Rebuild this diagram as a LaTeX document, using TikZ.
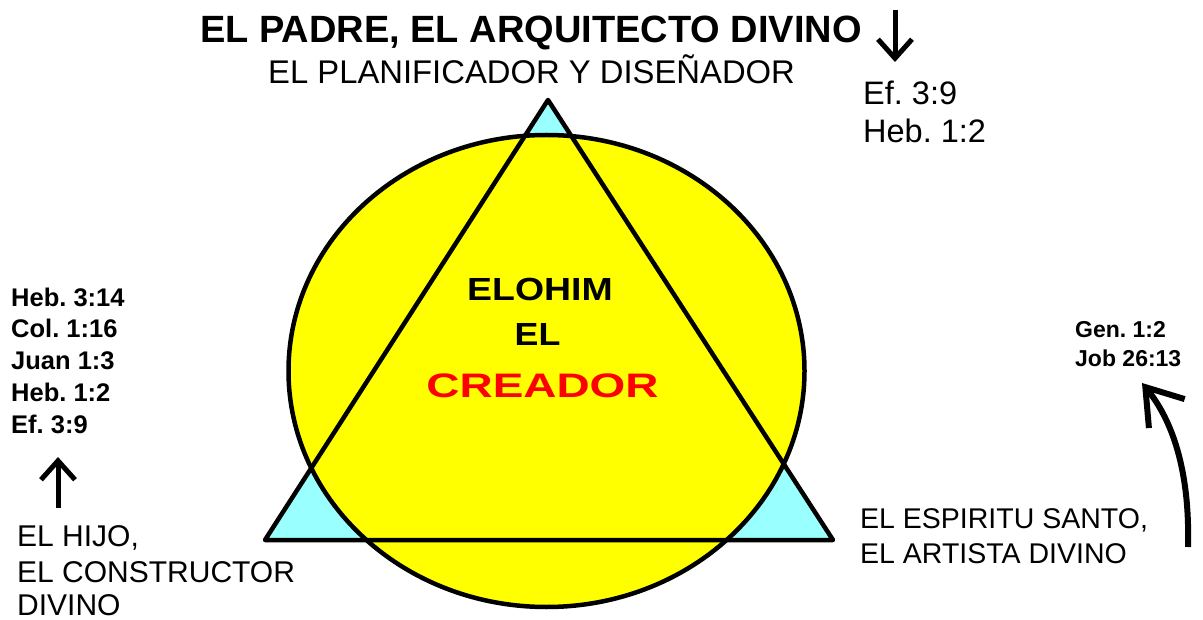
\documentclass[tikz,border=0pt]{standalone}
\usepackage{fontspec}
\setmainfont{Liberation Sans}
\usetikzlibrary{arrows.meta}
\definecolor{skycyan}{RGB}{153,255,255}
\definecolor{sunyellow}{RGB}{255,255,0}
\definecolor{creared}{RGB}{255,0,0}
\frenchspacing

\begin{document}
\begin{tikzpicture}[x=1pt,y=-1pt,
  lbl/.style={inner sep=0pt,anchor=base west},
  mid/.style={inner sep=0pt,anchor=base},
  thickline/.style={line width=4.5pt,line join=round},
  barb/.style={line width=5pt,-{Straight Barb[length=19pt,width=34pt]}}]
\useasboundingbox (0,0) rectangle (1203,620);

% Triangle behind the circle
\coordinate (apex) at (548,100);
\coordinate (baseleft) at (265,540);
\coordinate (baseright) at (833,540);
\fill[skycyan] (apex) -- (baseleft) -- (baseright) -- cycle;

% The circle (Elohim)
\coordinate (centre) at (546.5,371);
\fill[sunyellow] (centre) ellipse[x radius=258,y radius=236];
\draw[thickline] (centre) ellipse[x radius=258,y radius=236];
\draw[thickline] (apex) -- (baseleft) -- (baseright) -- cycle;

% Centre text
\node[mid,font=\bfseries\fontsize{32}{34}\selectfont] (elohim) at (540,301) {\scalebox{1.17}[1]{ELOHIM}};
\node[mid,font=\bfseries\fontsize{32}{34}\selectfont] (el) at (537.5,346) {\scalebox{1.12}[1]{EL}};
\node[mid,font=\bfseries\fontsize{34}{36}\selectfont,text=creared] (creador) at (542.5,398) {\scalebox{1.35}[1]{CREADOR}};

% The Father (top)
\node[lbl,font=\bfseries\fontsize{38}{40}\selectfont] (padre) at (200,43) {EL PADRE, EL ARQUITECTO DIVINO};
\node[lbl,font=\fontsize{32.8}{34}\selectfont] (planificador) at (268,84) {EL PLANIFICADOR Y DISEÑADOR};
\coordinate (padretail) at (895,10);
\coordinate (padretip) at (895,62);
\draw[barb] (padretail) -- (padretip);
\node[lbl,font=\fontsize{32.5}{34}\selectfont] (padreref1) at (863,105) {Ef. 3:9};
\node[lbl,font=\fontsize{32.5}{34}\selectfont] (padreref2) at (863,143) {Heb. 1:2};

% The Son (left)
\foreach \txt/\yy/\nm in {Heb. 3:14/307/a, Col. 1:16/338/b, Juan 1:3/370/c, Heb. 1:2/402/d, Ef. 3:9/433/e}
  \node[lbl,font=\bfseries\fontsize{25.5}{27}\selectfont] (hijoref\nm) at (11,\yy) {\txt};
\coordinate (hijotail) at (58,508);
\coordinate (hijotip) at (58,457);
\draw[barb] (hijotail) -- (hijotip);
\node[lbl,font=\fontsize{30}{32}\selectfont] (hijo1) at (17,546) {EL HIJO,};
\node[lbl,font=\fontsize{30}{32}\selectfont] (hijo2) at (17,582) {EL CONSTRUCTOR};
\node[lbl,font=\fontsize{30}{32}\selectfont] (hijo3) at (17,615) {DIVINO};

% The Holy Spirit (right)
\node[lbl,font=\fontsize{28.5}{30}\selectfont] (espiritu1) at (860,528) {EL ESPIRITU SANTO,};
\node[lbl,font=\fontsize{28.5}{30}\selectfont] (espiritu2) at (860,563) {EL ARTISTA DIVINO};
\node[lbl,font=\bfseries\fontsize{23}{25}\selectfont] (espirituref1) at (1075,338) {Gen. 1:2};
\node[lbl,font=\bfseries\fontsize{23}{25}\selectfont] (espirituref2) at (1075,367) {Job 26:13};
\coordinate (espiritutail) at (1188,547);
\coordinate (espiritutip) at (1142,383);
\draw[line width=6pt,-{Straight Barb[length=34pt,width=46pt]}] (espiritutail) .. controls (1190,470) and (1172,420) .. (espiritutip);

\end{tikzpicture}
\end{document}
